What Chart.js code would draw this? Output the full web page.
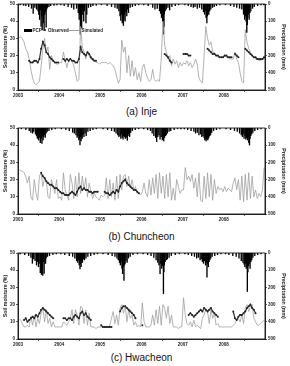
<!DOCTYPE html>
<html><head><meta charset="utf-8">
<script src="https://cdn.jsdelivr.net/npm/chart.js@4/dist/chart.umd.min.js"></script>
<style>
body{margin:0;width:290px;height:366px;background:#fff;position:relative;overflow:hidden;font-family:"Liberation Sans",Arial,sans-serif}
.panel{position:absolute;left:0;width:290px;height:100px}
.cap{position:absolute;left:0;width:283px;text-align:center;font-size:10px;line-height:12px;color:#111}
#legend{position:absolute;left:0;top:0;font-weight:bold;font-size:4.5px;color:#222}
#legend span{position:absolute;white-space:nowrap}
</style></head><body>
<div class="panel" style="top:0"><canvas id="c1" width="290" height="100"></canvas></div>
<div class="panel" style="top:124px"><canvas id="c2" width="290" height="100"></canvas></div>
<div class="panel" style="top:249px"><canvas id="c3" width="290" height="100"></canvas></div>
<div id="legend">
  <span style="left:24px;top:29px;width:8px;height:2.5px;background:#000"></span>
  <span style="left:32.5px;top:27.5px">PCP</span>
  <span style="left:44px;top:29.2px;width:1.8px;height:1.8px;border-radius:50%;background:#222"></span>
  <span style="left:48px;top:27.5px">Observed</span>
  <span style="left:66px;top:30px;width:14px;height:0.8px;background:#999"></span>
  <span style="left:81.5px;top:27.5px">Simulated</span>
</div>
<div class="cap" style="top:106px">(a) Inje</div>
<div class="cap" style="top:231px">(b) Chuncheon</div>
<div class="cap" style="top:352px">(c) Hwacheon</div>
<script>
const n = null;
const years = [2003, 2004, 2005, 2006, 2007, 2008];
const yearTickLabels = ['2003', '2004', '2005', '2006', '2007', '2008'];

// semi-monthly soil moisture (%), 24 values per year
const injeSim = [
  [30,31,30,28,24,22,18,12,7,4,3,4,5,14,24,30,22,25,12,20,17,16,15,15],
  [16,16,22,17,13,17,18,17,14,10,5,6,37,25,22,18,22,20,18,17,17,16,16,15],
  [16,16,16,16,15,16,15,14,12,8,4,6,29,22,25,10,20,8,17,8,13,6,10,5],
  [13,15,10,7,5,6,12,6,5,6,5,18,40,26,22,18,20,14,18,15,17,13,16,14],
  [16,15,17,14,16,13,15,18,15,7,5,4,20,37,30,26,28,22,22,20,20,19,19,19],
  [20,19,19,18,18,18,22,18,16,10,5,4,35,28,24,22,20,19,18,18,17,17,18,20]
];
const injeObs = [
  [n,n,n,n,n,n,17,16,16,17,17,16,18,24,28,26,22,21,19,18,17,16,16,16],
  [n,n,18,17,18,17,18,17,17,16,16,18,25,22,21,20,22,21,19,18,17,17,n,n],
  [n,n,n,n,n,n,n,n,n,n,n,n,n,n,n,n,n,n,n,n,n,n,n,n],
  [n,n,n,n,n,n,n,n,n,n,n,n,n,21,20,19,17,16,n,n,n,n,n,n],
  [21,21,21,20,20,n,n,n,n,n,n,n,n,n,24,23,22,21,21,20,20,19,19,19],
  [20,20,19,19,19,n,21,20,19,n,n,n,24,23,22,21,20,19,19,18,18,18,18,19]
];
const chuncheonSim = [
  [26,25,25,24,22,18,22,10,8,20,12,8,22,24,16,21,19,10,9,20,16,12,20,9],
  [10,8,24,14,11,8,23,18,9,22,10,24,12,22,14,21,10,18,13,9,12,10,9,8],
  [11,10,11,21,9,20,10,18,8,22,9,23,14,22,23,16,22,15,20,14,16,12,12,11],
  [13,18,12,10,20,11,21,12,23,9,24,12,22,9,23,10,24,8,15,8,20,16,12,14],
  [14,27,20,22,19,23,15,21,10,24,8,7,22,9,24,10,23,8,20,12,16,14,15,13],
  [16,13,15,14,13,18,21,14,20,8,22,7,23,8,24,9,22,10,14,9,12,10,14,27]
];
const chuncheonObs = [
  [n,n,n,n,n,n,n,n,n,n,n,n,n,24,22,21,19,18,17,17,16,15,15,14],
  [13,12,12,11,11,11,12,13,12,11,13,15,16,14,15,14,14,13,13,12,13,13,13,n],
  [n,n,13,12,12,11,12,13,12,14,13,16,18,19,20,18,17,16,15,14,14,13,12,n],
  [n,n,n,n,n,n,n,n,n,n,n,n,n,n,n,n,n,n,n,n,n,n,n,n],
  [n,n,n,n,n,n,n,n,n,n,n,n,n,n,n,n,n,n,n,n,n,n,n,n],
  [n,n,n,n,n,n,n,n,n,n,n,n,n,n,n,n,n,n,n,n,n,n,n,n]
];
const hwacheonSim = [
  [12,11,9,7,7,8,7,13,8,14,7,12,9,15,18,10,17,9,12,7,10,7,7,7],
  [7,7,10,9,8,10,12,17,9,17,14,8,19,18,9,17,8,15,7,7,7,6,7,7],
  [7,7,7,7,7,8,12,16,9,14,8,18,20,15,19,10,17,12,14,8,10,7,8,7],
  [21,10,7,7,7,8,14,8,17,9,19,8,20,18,12,19,9,14,7,7,7,6,7,7],
  [24,14,9,8,10,7,11,7,8,7,6,12,14,17,16,9,17,12,15,8,9,7,7,7],
  [7,7,7,7,7,8,9,11,12,10,14,9,18,20,16,19,20,12,10,8,8,9,10,11]
];
const hwacheonObs = [
  [n,n,n,11,12,10,11,12,13,12,14,13,15,17,18,17,16,15,14,13,12,n,n,n],
  [n,n,12,12,11,12,12,11,13,14,13,12,15,16,14,15,13,12,11,n,n,n,n,n],
  [8,7,7,7,7,7,7,n,n,n,n,16,18,19,19,18,17,16,15,14,12,n,n,n],
  [8,n,n,n,n,n,n,n,n,n,n,n,n,n,n,n,n,n,n,n,n,n,n,n],
  [n,n,n,14,15,14,13,14,15,16,17,16,18,17,16,17,18,16,15,14,13,n,n,n],
  [n,n,n,n,n,16,12,11,13,14,14,15,16,18,19,20,18,17,15,n,n,n,n,n]
];

// daily precipitation events [day of year, mm], one list per year
const injeRain = [
  [[20,5],[50,8],[70,10],[95,15],[120,25],[135,55],[150,20],[165,30],[178,40],[185,60],[192,90],[198,35],[205,130],[210,70],[215,150],[220,40],[225,110],[232,155],[238,60],[245,45],[250,135],[255,30],[262,20],[275,15],[290,10],[320,8],[345,5]],
  [[15,5],[45,10],[80,15],[110,20],[130,30],[155,25],[170,50],[178,90],[183,60],[188,175],[192,120],[196,80],[200,140],[205,60],[210,30],[218,100],[225,40],[238,110],[245,60],[260,20],[280,15],[300,10],[330,8]],
  [[10,5],[60,10],[100,15],[130,20],[150,25],[165,40],[175,70],[182,95],[188,60],[195,110],[200,80],[205,125],[210,90],[215,60],[220,100],[228,45],[235,70],[242,30],[250,50],[265,20],[285,15],[310,10],[340,5]],
  [[20,5],[60,10],[100,20],[120,30],[140,25],[160,40],[170,55],[178,80],[183,60],[188,100],[192,90],[196,175],[199,130],[203,60],[210,40],[220,30],[235,20],[250,35],[270,15],[300,10],[330,5]],
  [[20,5],[50,10],[75,15],[95,20],[110,15],[130,25],[150,20],[170,30],[185,45],[195,60],[200,40],[208,80],[215,110],[220,70],[225,50],[232,60],[240,40],[250,30],[265,20],[280,15],[300,10],[330,5]],
  [[15,5],[60,10],[90,15],[115,20],[140,25],[160,30],[175,60],[185,90],[192,70],[198,100],[204,165],[208,120],[212,80],[218,60],[225,90],[232,50],[240,40],[255,25],[270,15],[300,10],[330,5],[355,5]]
];
const chuncheonRain = [
  [[30,5],[70,10],[100,15],[115,25],[130,30],[140,20],[155,35],[165,45],[172,60],[178,40],[183,70],[188,50],[193,55],[198,85],[203,40],[208,60],[213,90],[218,45],[223,70],[228,50],[235,40],[242,55],[250,30],[260,20],[275,15],[300,10],[330,5]],
  [[20,5],[60,10],[90,15],[120,25],[135,30],[150,40],[160,55],[168,45],[175,70],[180,60],[185,99],[190,50],[195,75],[200,40],[205,60],[212,35],[220,50],[230,30],[240,45],[255,20],[275,15],[300,10],[330,5]],
  [[25,5],[65,10],[100,15],[125,20],[140,30],[155,40],[165,50],[175,45],[182,60],[188,35],[195,55],[202,65],[208,45],[215,50],[222,60],[228,40],[235,55],[240,72],[246,45],[252,35],[260,50],[270,25],[285,15],[310,10],[340,5]],
  [[20,5],[55,10],[80,15],[95,30],[110,45],[125,55],[135,79],[145,50],[155,40],[165,65],[175,50],[185,70],[192,60],[198,75],[205,55],[212,45],[220,40],[230,30],[245,20],[260,15],[290,10],[320,5],[350,5]],
  [[15,5],[45,10],[75,15],[100,20],[115,30],[130,25],[145,40],[160,35],[170,50],[180,45],[190,55],[197,70],[203,60],[208,75],[213,65],[218,50],[223,70],[228,60],[233,55],[240,45],[248,40],[258,25],[275,15],[300,10],[330,5]],
  [[20,5],[60,10],[95,15],[120,20],[140,30],[155,40],[165,50],[172,35],[180,60],[188,45],[195,65],[202,55],[210,70],[216,50],[222,85],[228,99],[233,60],[240,45],[248,35],[258,25],[275,15],[300,10],[330,5]]
];
const hwacheonRain = [
  [[20,5],[60,10],[95,15],[115,25],[128,60],[140,35],[152,45],[165,70],[175,50],[182,80],[188,60],[198,115],[203,70],[208,125],[213,90],[220,130],[225,50],[232,118],[240,60],[245,60],[250,30],[262,20],[280,15],[310,10],[340,5]],
  [[15,5],[50,10],[90,15],[120,20],[140,30],[155,45],[165,55],[172,40],[178,70],[185,92],[190,60],[195,80],[200,45],[207,55],[215,35],[225,40],[238,30],[255,20],[280,15],[310,10],[340,5]],
  [[25,5],[70,10],[105,15],[130,20],[148,30],[160,40],[170,55],[178,70],[185,50],[192,90],[198,120],[203,80],[210,159],[215,70],[220,60],[228,45],[238,55],[250,30],[265,20],[290,10],[330,5]],
  [[15,5],[55,10],[85,15],[110,25],[130,40],[145,55],[155,70],[165,120],[172,60],[180,90],[188,75],[195,236],[199,110],[203,70],[210,50],[220,40],[230,35],[245,25],[265,15],[300,10],[335,5]],
  [[20,5],[50,10],[80,15],[105,20],[125,30],[140,25],[155,40],[165,35],[175,50],[185,60],[195,45],[203,70],[210,55],[216,140],[222,65],[228,80],[235,50],[242,40],[250,30],[262,20],[285,15],[310,10],[340,5]],
  [[15,5],[45,10],[80,15],[110,20],[135,30],[155,45],[170,55],[180,65],[187,80],[193,60],[199,90],[204,70],[209,224],[214,110],[220,75],[226,60],[233,90],[240,50],[248,40],[258,25],[275,15],[300,10],[330,5]]
];

function toSeries(nested) {
  const out = [];
  nested.forEach((vals, yi) => vals.forEach((v, k) => out.push({x: years[yi] + (k + 0.5) / 24, y: v})));
  return out;
}
function toRain(nested) {
  const out = [];
  nested.forEach((evts, yi) => evts.forEach(e => out.push({x: years[yi] + (e[0] - 0.5) / 365, y: e[1]})));
  return out;
}

const FONT = '"Liberation Sans", Arial, sans-serif';
const tickFont = {family: FONT, size: 4.5, weight: 'bold'};
const titleFont = {family: FONT, size: 5.2, weight: 'bold'};

const framePlugin = {
  id: 'frame',
  afterDraw(chart) {
    const {ctx, chartArea: a} = chart;
    ctx.save();
    ctx.strokeStyle = '#000';
    ctx.lineWidth = 0.8;
    ctx.strokeRect(a.left, a.top, a.right - a.left, a.bottom - a.top);
    ctx.restore();
  }
};

function makeChart(id, sim, obs, rain) {
  return new Chart(document.getElementById(id), {
    type: 'line',
    data: {
      datasets: [
        {type: 'line', label: 'Observed', data: toSeries(obs), yAxisID: 'y', order: 0,
         borderColor: '#333', borderWidth: 1.2, pointRadius: 1, pointBackgroundColor: '#222',
         pointBorderWidth: 0, spanGaps: false, tension: 0},
        {type: 'line', label: 'Simulated', data: toSeries(sim), yAxisID: 'y', order: 1,
         borderColor: '#a0a0a0', borderWidth: 0.8, pointRadius: 0, tension: 0},
        {type: 'bar', label: 'PCP', data: toRain(rain), yAxisID: 'y2', order: 2,
         backgroundColor: '#000', barThickness: 0.7, borderWidth: 0}
      ]
    },
    options: {
      responsive: false, animation: false, devicePixelRatio: 1,
      layout: {padding: {top: 3, right: 2, left: 0, bottom: 0}},
      plugins: {legend: {display: false}, tooltip: {enabled: false}},
      scales: {
        x: {
          type: 'linear', min: 2003, max: 2009, offset: false,
          ticks: {stepSize: 1, autoSkip: false, maxRotation: 0, font: tickFont, color: '#222', padding: 1,
                  callback: v => { const i = years.indexOf(v); return i >= 0 ? yearTickLabels[i] : ''; }},
          grid: {drawOnChartArea: false, tickLength: 2, color: '#000', lineWidth: 0.6},
          border: {color: '#000', width: 0.8},
          afterFit(s) { s.height = 10; }
        },
        y: {
          position: 'left', min: 0, max: 50,
          ticks: {stepSize: 10, font: tickFont, color: '#222', padding: 1},
          grid: {drawOnChartArea: false, tickLength: 2, color: '#000', lineWidth: 0.6},
          border: {color: '#000', width: 0.8},
          title: {display: true, text: 'Soil moisture (%)', font: titleFont, color: '#222', padding: {top: 2, bottom: 0}},
          afterFit(s) { s.width = 18; }
        },
        y2: {
          position: 'right', min: 0, max: 500, reverse: true,
          ticks: {stepSize: 100, font: tickFont, color: '#222', padding: 1},
          grid: {drawOnChartArea: false, tickLength: 2, color: '#000', lineWidth: 0.6},
          border: {color: '#000', width: 0.8},
          title: {display: true, text: 'Precipitation (mm)', font: titleFont, color: '#222', padding: {top: 1.5, bottom: 0}},
          afterFit(s) { s.width = 23; }
        }
      }
    },
    plugins: [framePlugin]
  });
}

makeChart('c1', injeSim, injeObs, injeRain);
makeChart('c2', chuncheonSim, chuncheonObs, chuncheonRain);
makeChart('c3', hwacheonSim, hwacheonObs, hwacheonRain);
</script>
</body></html>
